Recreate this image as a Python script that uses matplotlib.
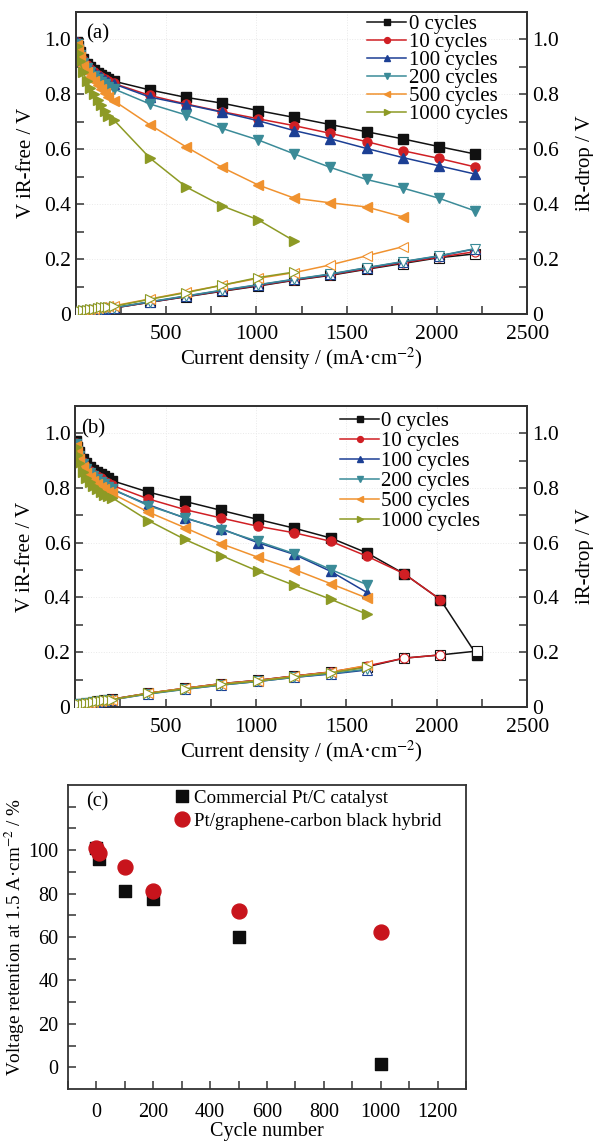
import matplotlib
matplotlib.use("Agg")
import matplotlib.pyplot as plt
from matplotlib.ticker import MultipleLocator, FuncFormatter, FixedLocator

plt.rcParams['font.family'] = ['Liberation Serif', 'DejaVu Serif']
plt.rcParams['mathtext.fontset'] = 'stix'

# ---------------- data ----------------
labels = ["0 cycles", "10 cycles", "100 cycles", "200 cycles", "500 cycles", "1000 cycles"]
colors = ["#111111", "#d01f24", "#1c3f94", "#3b8b98", "#f0922f", "#8d9a25"]
markers = ["s", "o", "^", "v", "<", ">"]

# dense low-current region (mA/cm2)
x_dense = [5, 10, 20, 40, 60, 80, 100, 120, 140, 160, 180]

# panel (a)
xa = [210, 410, 610, 810, 1010, 1210, 1410, 1610, 1810, 2010, 2210]
va_dense = [
    [0.99, 0.975, 0.955, 0.93, 0.912, 0.90, 0.89, 0.878, 0.87, 0.862, 0.855],
    [0.99, 0.972, 0.95, 0.925, 0.907, 0.894, 0.883, 0.872, 0.863, 0.855, 0.847],
    [0.99, 0.972, 0.95, 0.924, 0.906, 0.893, 0.882, 0.871, 0.862, 0.853, 0.845],
    [0.985, 0.965, 0.942, 0.914, 0.895, 0.88, 0.866, 0.855, 0.845, 0.836, 0.828],
    [0.98, 0.96, 0.935, 0.905, 0.882, 0.865, 0.85, 0.835, 0.82, 0.805, 0.79],
    [0.975, 0.95, 0.92, 0.88, 0.85, 0.825, 0.80, 0.78, 0.76, 0.74, 0.722],
]
va_main = [
    [0.848, 0.816, 0.789, 0.768, 0.741, 0.716, 0.69, 0.664, 0.638, 0.61, 0.583],
    [0.84, 0.796, 0.765, 0.737, 0.711, 0.686, 0.658, 0.628, 0.595, 0.567, 0.536],
    [0.838, 0.79, 0.763, 0.735, 0.704, 0.668, 0.638, 0.603, 0.57, 0.54, 0.51],
    [0.82, 0.765, 0.725, 0.676, 0.634, 0.583, 0.534, 0.49, 0.459, 0.422, 0.376],
    [0.777, 0.689, 0.609, 0.534, 0.47, 0.422, 0.405, 0.39, 0.354],
    [0.707, 0.568, 0.463, 0.394, 0.343, 0.266],
]
ira_dense = [
    [0.005, 0.006, 0.008, 0.010, 0.012, 0.014, 0.015, 0.017, 0.018, 0.020, 0.021],
    [0.005, 0.006, 0.008, 0.010, 0.012, 0.014, 0.015, 0.017, 0.018, 0.020, 0.021],
    [0.005, 0.006, 0.008, 0.010, 0.012, 0.014, 0.016, 0.017, 0.019, 0.020, 0.022],
    [0.005, 0.006, 0.008, 0.010, 0.012, 0.014, 0.016, 0.018, 0.019, 0.021, 0.022],
    [0.006, 0.008, 0.010, 0.013, 0.016, 0.018, 0.020, 0.022, 0.024, 0.026, 0.028],
    [0.006, 0.008, 0.010, 0.013, 0.016, 0.018, 0.020, 0.022, 0.024, 0.025, 0.027],
]
ira_main = [
    [0.022, 0.043, 0.063, 0.083, 0.102, 0.123, 0.141, 0.163, 0.184, 0.205, 0.219],
    [0.022, 0.043, 0.064, 0.084, 0.104, 0.124, 0.143, 0.165, 0.187, 0.207, 0.227],
    [0.023, 0.044, 0.065, 0.086, 0.106, 0.126, 0.145, 0.168, 0.190, 0.211, 0.237],
    [0.023, 0.045, 0.066, 0.087, 0.107, 0.127, 0.146, 0.169, 0.191, 0.212, 0.238],
    [0.030, 0.055, 0.080, 0.105, 0.130, 0.151, 0.179, 0.212, 0.245],
    [0.028, 0.054, 0.078, 0.105, 0.133, 0.153],
]

# panel (b)
xb = [202, 404, 606, 808, 1010, 1212, 1414, 1616, 1818, 2020, 2222]
vb_dense = [
    [0.97, 0.95, 0.93, 0.905, 0.89, 0.878, 0.867, 0.858, 0.85, 0.842, 0.835],
    [0.965, 0.94, 0.92, 0.895, 0.877, 0.863, 0.852, 0.843, 0.835, 0.826, 0.818],
    [0.96, 0.935, 0.915, 0.885, 0.866, 0.852, 0.84, 0.829, 0.82, 0.811, 0.802],
    [0.96, 0.935, 0.915, 0.886, 0.868, 0.854, 0.842, 0.831, 0.822, 0.813, 0.805],
    [0.955, 0.93, 0.905, 0.875, 0.855, 0.84, 0.827, 0.815, 0.805, 0.796, 0.787],
    [0.95, 0.92, 0.89, 0.86, 0.838, 0.82, 0.806, 0.795, 0.785, 0.776, 0.77],
]
vb_main = [
    [0.827, 0.785, 0.751, 0.718, 0.685, 0.653, 0.617, 0.562, 0.487, 0.392, 0.188],
    [0.81, 0.76, 0.721, 0.69, 0.66, 0.636, 0.605, 0.55, 0.487, 0.392],
    [0.795, 0.739, 0.69, 0.651, 0.60, 0.557, 0.495, 0.417],
    [0.798, 0.735, 0.692, 0.648, 0.605, 0.56, 0.502, 0.446],
    [0.78, 0.712, 0.655, 0.596, 0.547, 0.502, 0.45, 0.397],
    [0.765, 0.681, 0.612, 0.553, 0.496, 0.444, 0.393, 0.338],
]
irb_dense = [
    [0.008, 0.009, 0.010, 0.012, 0.014, 0.016, 0.018, 0.020, 0.022, 0.024, 0.026],
    [0.008, 0.009, 0.010, 0.012, 0.014, 0.016, 0.018, 0.020, 0.022, 0.024, 0.026],
    [0.008, 0.009, 0.010, 0.012, 0.014, 0.016, 0.017, 0.019, 0.021, 0.023, 0.025],
    [0.008, 0.009, 0.010, 0.012, 0.014, 0.016, 0.017, 0.019, 0.021, 0.023, 0.025],
    [0.008, 0.009, 0.010, 0.012, 0.014, 0.016, 0.018, 0.020, 0.022, 0.024, 0.026],
    [0.008, 0.009, 0.010, 0.012, 0.014, 0.016, 0.018, 0.020, 0.022, 0.024, 0.026],
]
irb_main = [
    [0.028, 0.050, 0.068, 0.085, 0.097, 0.113, 0.127, 0.147, 0.178, 0.190, 0.204],
    [0.028, 0.050, 0.068, 0.085, 0.097, 0.113, 0.128, 0.150, 0.178, 0.190],
    [0.026, 0.048, 0.065, 0.080, 0.093, 0.108, 0.120, 0.135],
    [0.026, 0.047, 0.064, 0.080, 0.093, 0.108, 0.122, 0.138],
    [0.027, 0.050, 0.068, 0.084, 0.096, 0.112, 0.127, 0.152],
    [0.027, 0.049, 0.066, 0.082, 0.095, 0.110, 0.125, 0.145],
]

# panel (c)
cycles = [0, 10, 100, 200, 500, 1000]
retention_ptc = [101, 95.7, 81.4, 77.4, 60, 1.5]
retention_hybrid = [101, 98.8, 92.4, 81.4, 71.8, 62.3]

# ---------------- figure ----------------
fig = plt.figure(figsize=(5.93, 11.42), dpi=100)
spine_col = "#333333"
FS = 15
TFS = 15.5


def fmt_v(v, pos):
    return "0" if abs(v) < 1e-9 else "%.1f" % v


def style_axes(ax):
    for s in ax.spines.values():
        s.set_color(spine_col)
        s.set_linewidth(1.3)
    ax.tick_params(which="both", direction="in", length=6, width=1.1,
                   color=spine_col, labelsize=TFS, top=False)
    ax.tick_params(axis="x", pad=8)


def polar_panel(rect, x_main, v_dense, v_main, ir_dense, ir_main, tag, tag_pos,
                leg_anchor, leg_space):
    ax = fig.add_axes(rect)
    ax2 = ax.twinx()
    handles = []
    for i in range(6):
        n = len(v_main[i])
        xs = x_dense + x_main[:n]
        ys = v_dense[i] + v_main[i]
        h, = ax.plot(xs, ys, color=colors[i], marker=markers[i], ms=6.5,
                     lw=1.1, mec=colors[i], mfc=colors[i], label=labels[i], zorder=3 + i)
        handles.append(h)
    for i in range(6):
        n = len(ir_main[i])
        xs = x_dense + x_main[:n]
        ys = ir_dense[i] + ir_main[i]
        ax2.plot(xs, ys, color=colors[i], marker=markers[i], ms=6.5,
                 lw=1.1, mec=colors[i], mfc="white", mew=0.8, zorder=3 + i)
    for a in (ax, ax2):
        a.set_xlim(0, 2500)
        a.set_ylim(0, 1.1)
        a.yaxis.set_major_locator(FixedLocator([0, 0.2, 0.4, 0.6, 0.8, 1.0]))
        a.yaxis.set_minor_locator(MultipleLocator(0.1))
        a.yaxis.set_major_formatter(FuncFormatter(fmt_v))
        style_axes(a)
    ax.xaxis.set_major_locator(FixedLocator([500, 1000, 1500, 2000, 2500]))
    ax.xaxis.set_minor_locator(MultipleLocator(250))
    ax.grid(True, which="major", color="#e9e9e9", lw=0.7, ls=":")
    ax.set_axisbelow(True)
    ax.set_ylabel("V iR-free / V", fontsize=FS, labelpad=6)
    ax2.set_ylabel("iR-drop / V", fontsize=FS, labelpad=12)
    ax.set_xlabel("Current density / (mA·cm$^{-2}$)", fontsize=FS, labelpad=1)
    ax.text(tag_pos[0], tag_pos[1], tag, transform=ax.transAxes, fontsize=FS,
            va="top", ha="left")
    ax2.legend(handles=handles, loc="upper right", bbox_to_anchor=leg_anchor,
               frameon=False, fontsize=FS, handlelength=1.9, handletextpad=0.1,
               labelspacing=leg_space, markerscale=0.65, borderaxespad=0.0)
    return ax, ax2


polar_panel([0.128, 0.725, 0.761, 0.2645], xa, va_dense, va_main, ira_dense, ira_main,
            "(a)", (0.022, 0.958), (0.975, 1.018), -0.08)
polar_panel([0.127, 0.381, 0.762, 0.2636], xb, vb_dense, vb_main, irb_dense, irb_main,
            "(b)", (0.012, 0.955), (0.915, 1.008), 0.02)

# panel (c)
CFS = 14.5
axc = fig.add_axes([0.1147, 0.0464, 0.6711, 0.2662])
axc.scatter(cycles, retention_ptc, marker="s", s=85, color="#0d0d0d",
            label="Commercial Pt/C catalyst", zorder=3)
axc.scatter(cycles, retention_hybrid, marker="o", s=115, color="#c8141c",
            label="Pt/graphene-carbon black hybrid", zorder=4)
axc.set_xlim(-100, 1300)
axc.set_ylim(-10, 130)
axc.xaxis.set_major_locator(MultipleLocator(200))
axc.xaxis.set_minor_locator(MultipleLocator(100))
axc.yaxis.set_major_locator(FixedLocator([0, 20, 40, 60, 80, 100]))
axc.yaxis.set_minor_locator(FixedLocator([10, 30, 50, 70, 90, 110, 120]))
for s in axc.spines.values():
    s.set_color(spine_col)
    s.set_linewidth(1.3)
axc.tick_params(which="both", direction="in", length=6, width=1.1, color=spine_col,
                labelsize=CFS)
axc.tick_params(axis="y", pad=7)
axc.tick_params(axis="x", pad=10)
axc.set_xlabel("Cycle number", fontsize=CFS, labelpad=0)
axc.set_ylabel("Voltage retention at 1.5 A·cm$^{-2}$ / %", fontsize=13.8, labelpad=1)
axc.text(0.045, 0.975, "(c)", transform=axc.transAxes, fontsize=CFS, va="top", ha="left")
axc.legend(loc="upper left", bbox_to_anchor=(0.22, 1.01), frameon=False, fontsize=13.6,
           handletextpad=-0.35, labelspacing=0.3, markerscale=1.0, borderaxespad=0.0,
           scatteryoffsets=[0.5])

fig.savefig("out.png", dpi=100)
